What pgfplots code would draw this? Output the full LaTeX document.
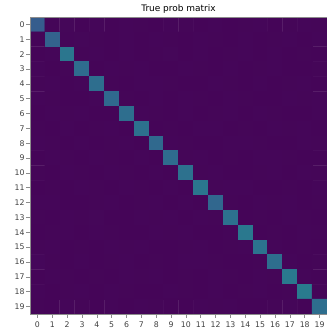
\documentclass[border=0pt]{standalone}
\usepackage{pgfplots}
\pgfplotsset{compat=1.18}
\usepackage{fontspec}
\setmainfont{DejaVu Sans}
\begin{document}
\begin{tikzpicture}
\path[use as bounding box] (-30bp,-17bp) rectangle (297bp,314bp);
\begin{axis}[
  at={(0,0)}, anchor=south west,
  scale only axis, width=297bp, height=297bp,
  colormap/viridis, point meta min=0, point meta max=1,
  xmin=-0.5, xmax=19.5, ymin=-0.5, ymax=19.5, y dir=reverse,
  xtick={0,...,19}, ytick={0,...,19},
  tick align=outside, tick pos=left,
  major tick length=3.5bp,
  every tick/.style={black!45, line width=0.6pt},
  axis line style={black!45, line width=0.6pt},
  tick label style={font=\fontsize{7.8}{9}\selectfont, text=black!75},
  /pgf/number format/assume math mode=true,
  yticklabel style={xshift=1.5bp},
  xticklabel style={yshift=-1bp},
  title={True prob matrix},
  title style={font=\fontsize{9}{11}\selectfont, yshift=-5.5bp},
  axis on top,
]
\addplot[matrix plot, mesh/cols=20, point meta=explicit] table[meta=c] {
x y c
0 0 0.29
1 0 0.012
2 0 0.015
3 0 0.010
4 0 0.013
5 0 0.011
6 0 0.014
7 0 0.012
8 0 0.010
9 0 0.013
10 0 0.012
11 0 0.011
12 0 0.014
13 0 0.010
14 0 0.012
15 0 0.013
16 0 0.011
17 0 0.012
18 0 0.014
19 0 0.012
0 1 0.010
1 1 0.31
2 1 0.013
3 1 0.015
4 1 0.012
5 1 0.010
6 1 0.014
7 1 0.011
8 1 0.013
9 1 0.012
10 1 0.010
11 1 0.014
12 1 0.012
13 1 0.011
14 1 0.013
15 1 0.010
16 1 0.012
17 1 0.014
18 1 0.011
19 1 0.013
0 2 0.011
1 2 0.013
2 2 0.39
3 2 0.012
4 2 0.014
5 2 0.011
6 2 0.013
7 2 0.010
8 2 0.012
9 2 0.015
10 2 0.011
11 2 0.013
12 2 0.010
13 2 0.012
14 2 0.014
15 2 0.011
16 2 0.013
17 2 0.010
18 2 0.012
19 2 0.011
0 3 0.013
1 3 0.011
2 3 0.012
3 3 0.35
4 3 0.010
5 3 0.013
6 3 0.012
7 3 0.014
8 3 0.011
9 3 0.010
10 3 0.013
11 3 0.012
12 3 0.011
13 3 0.014
14 3 0.010
15 3 0.012
16 3 0.013
17 3 0.011
18 3 0.010
19 3 0.012
0 4 0.012
1 4 0.014
2 4 0.010
3 4 0.013
4 4 0.36
5 4 0.012
6 4 0.011
7 4 0.013
8 4 0.014
9 4 0.012
10 4 0.010
11 4 0.011
12 4 0.013
13 4 0.012
14 4 0.011
15 4 0.014
16 4 0.010
17 4 0.012
18 4 0.013
19 4 0.011
0 5 0.014
1 5 0.012
2 5 0.011
3 5 0.010
4 5 0.013
5 5 0.34
6 5 0.012
7 5 0.011
8 5 0.013
9 5 0.010
10 5 0.014
11 5 0.012
12 5 0.011
13 5 0.013
14 5 0.012
15 5 0.010
16 5 0.011
17 5 0.014
18 5 0.012
19 5 0.013
0 6 0.011
1 6 0.013
2 6 0.012
3 6 0.014
4 6 0.011
5 6 0.010
6 6 0.36
7 6 0.013
8 6 0.012
9 6 0.011
10 6 0.013
11 6 0.010
12 6 0.012
13 6 0.014
14 6 0.011
15 6 0.013
16 6 0.012
17 6 0.010
18 6 0.011
19 6 0.014
0 7 0.012
1 7 0.010
2 7 0.014
3 7 0.011
4 7 0.012
5 7 0.013
6 7 0.011
7 7 0.37
8 7 0.010
9 7 0.012
10 7 0.011
11 7 0.013
12 7 0.014
13 7 0.010
14 7 0.012
15 7 0.011
16 7 0.013
17 7 0.012
18 7 0.014
19 7 0.010
0 8 0.013
1 8 0.012
2 8 0.011
3 8 0.013
4 8 0.010
5 8 0.012
6 8 0.014
7 8 0.011
8 8 0.34
9 8 0.013
10 8 0.012
11 8 0.010
12 8 0.011
13 8 0.013
14 8 0.014
15 8 0.012
16 8 0.010
17 8 0.011
18 8 0.013
19 8 0.012
0 9 0.010
1 9 0.013
2 9 0.012
3 9 0.011
4 9 0.014
5 9 0.012
6 9 0.010
7 9 0.013
8 9 0.011
9 9 0.35
10 9 0.012
11 9 0.014
12 9 0.010
13 9 0.012
14 9 0.011
15 9 0.013
16 9 0.014
17 9 0.012
18 9 0.010
19 9 0.011
0 10 0.012
1 10 0.011
2 10 0.013
3 10 0.012
4 10 0.010
5 10 0.014
6 10 0.012
7 10 0.011
8 10 0.013
9 10 0.010
10 10 0.37
11 10 0.012
12 10 0.013
13 10 0.011
14 10 0.010
15 10 0.012
16 10 0.014
17 10 0.011
18 10 0.013
19 10 0.012
0 11 0.011
1 11 0.012
2 11 0.010
3 11 0.013
4 11 0.012
5 11 0.011
6 11 0.014
7 11 0.012
8 11 0.010
9 11 0.013
10 11 0.011
11 11 0.39
12 11 0.012
13 11 0.014
14 11 0.013
15 11 0.011
16 11 0.010
17 11 0.012
18 11 0.011
19 11 0.013
0 12 0.013
1 12 0.014
2 12 0.011
3 12 0.010
4 12 0.012
5 12 0.013
6 12 0.011
7 12 0.012
8 12 0.014
9 12 0.011
10 12 0.013
11 12 0.010
12 12 0.33
13 12 0.012
14 12 0.011
15 12 0.013
16 12 0.012
17 12 0.014
18 12 0.010
19 12 0.012
0 13 0.012
1 13 0.011
2 13 0.013
3 13 0.012
4 13 0.015
5 13 0.011
6 13 0.010
7 13 0.013
8 13 0.012
9 13 0.014
10 13 0.011
11 13 0.013
12 13 0.012
13 13 0.37
14 13 0.010
15 13 0.012
16 13 0.011
17 13 0.013
18 13 0.012
19 13 0.010
0 14 0.010
1 14 0.012
2 14 0.014
3 14 0.011
4 14 0.013
5 14 0.012
6 14 0.010
7 14 0.011
8 14 0.013
9 14 0.012
10 14 0.014
11 14 0.011
12 14 0.010
13 14 0.013
14 14 0.40
15 14 0.011
16 14 0.012
17 14 0.010
18 14 0.013
19 14 0.012
0 15 0.012
1 15 0.013
2 15 0.011
3 15 0.012
4 15 0.010
5 15 0.013
6 15 0.012
7 15 0.014
8 15 0.011
9 15 0.010
10 15 0.012
11 15 0.013
12 15 0.011
13 15 0.012
14 15 0.014
15 15 0.38
16 15 0.013
17 15 0.011
18 15 0.012
19 15 0.010
0 16 0.016
1 16 0.012
2 16 0.010
3 16 0.013
4 16 0.011
5 16 0.012
6 16 0.013
7 16 0.010
8 16 0.012
9 16 0.011
10 16 0.013
11 16 0.014
12 16 0.012
13 16 0.011
14 16 0.010
15 16 0.012
16 16 0.36
17 16 0.013
18 16 0.011
19 16 0.012
0 17 0.011
1 17 0.013
2 17 0.012
3 17 0.010
4 17 0.012
5 17 0.011
6 17 0.013
7 17 0.012
8 17 0.014
9 17 0.010
10 17 0.012
11 17 0.011
12 17 0.013
13 17 0.012
14 17 0.010
15 17 0.014
16 17 0.012
17 17 0.40
18 17 0.013
19 17 0.011
0 18 0.013
1 18 0.010
2 18 0.012
3 18 0.014
4 18 0.011
5 18 0.013
6 18 0.012
7 18 0.010
8 18 0.011
9 18 0.013
10 18 0.012
11 18 0.010
12 18 0.014
13 18 0.011
14 18 0.012
15 18 0.013
16 18 0.010
17 18 0.012
18 18 0.41
19 18 0.012
0 19 0.012
1 19 0.011
2 19 0.013
3 19 0.012
4 19 0.010
5 19 0.014
6 19 0.011
7 19 0.013
8 19 0.012
9 19 0.010
10 19 0.011
11 19 0.013
12 19 0.012
13 19 0.014
14 19 0.011
15 19 0.010
16 19 0.012
17 19 0.013
18 19 0.011
19 19 0.36
};
\end{axis}
\end{tikzpicture}
\end{document}
